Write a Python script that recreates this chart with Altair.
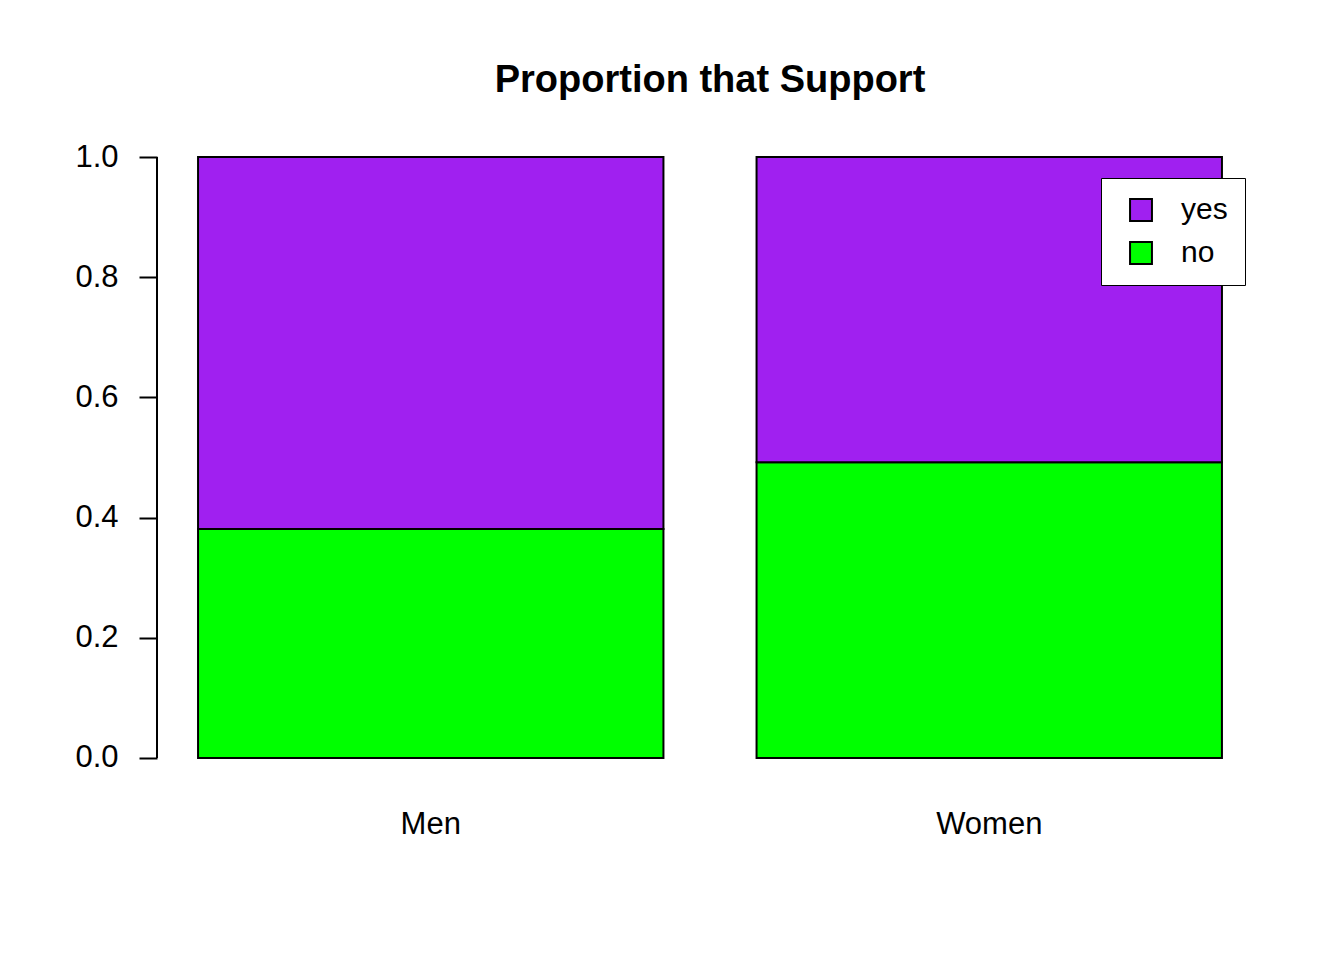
import altair as alt
import pandas as pd

groups = ["Men", "Women"]
no_share = [0.381, 0.492]
responses = ["yes", "no"]
colors = ["#A020F0", "#00FF00"]
y_ticks = [0.0, 0.2, 0.4, 0.6, 0.8, 1.0]

rows = []
for g, n in zip(groups, no_share):
    rows.append({"group": g, "response": "no", "share": n, "ord": 0})
    rows.append({"group": g, "response": "yes", "share": 1 - n, "ord": 1})
df = pd.DataFrame(rows)

FONT = "Liberation Sans"

yscale = alt.Scale(domain=[-0.04, 1.04], nice=False, zero=False)

bars = alt.Chart(df).mark_bar(stroke="black", strokeWidth=2).encode(
    x=alt.X("group:N", sort=groups,
            scale=alt.Scale(paddingInner=0.1667, paddingOuter=0.0735),
            axis=alt.Axis(title=None, domain=False, ticks=False, labelAngle=0,
                          labelFontSize=31, labelFont=FONT, labelColor="black",
                          labelPadding=27)),
    y=alt.Y("share:Q", stack="zero", scale=yscale,
            axis=alt.Axis(title=None, values=y_ticks, format=".1f", domain=False,
                          grid=False, tickSize=18, tickWidth=2, tickColor="black",
                          labelFontSize=31, labelFont=FONT, labelColor="black",
                          labelPadding=21, labelBaseline="middle")),
    color=alt.Color("response:N",
                    scale=alt.Scale(domain=responses, range=colors),
                    legend=alt.Legend(title=None, orient="none", legendX=944, legendY=45,
                                      symbolType="square", symbolSize=480,
                                      symbolStrokeColor="black", symbolStrokeWidth=2,
                                      symbolOffset=8,
                                      labelFontSize=30, labelFont=FONT, labelColor="black",
                                      labelOffset=25, rowPadding=13, padding=17,
                                      fillColor="white", strokeColor="black")),
    order=alt.Order("ord:Q"),
)

axis_df = pd.DataFrame({"lo": [y_ticks[0]], "hi": [y_ticks[-1]]})
axis_line = alt.Chart(axis_df).mark_rule(color="black", strokeWidth=2).encode(
    x=alt.value(0),
    y=alt.Y("lo:Q", scale=yscale),
    y2="hi:Q",
)

chart = alt.layer(bars, axis_line).properties(
    width=1106,
    height=649,
    title=alt.TitleParams("Proportion that Support", fontSize=38, font=FONT,
                          fontWeight="bold", color="black", anchor="middle",
                          baseline="alphabetic", offset=3),
    autosize=alt.AutoSizeParams(type="none"),
    padding={"left": 149, "top": 125, "right": 60, "bottom": 120},
    background="white",
).configure_view(stroke=None)

chart.save("out.html", embed_options={"renderer": "svg", "actions": False})
